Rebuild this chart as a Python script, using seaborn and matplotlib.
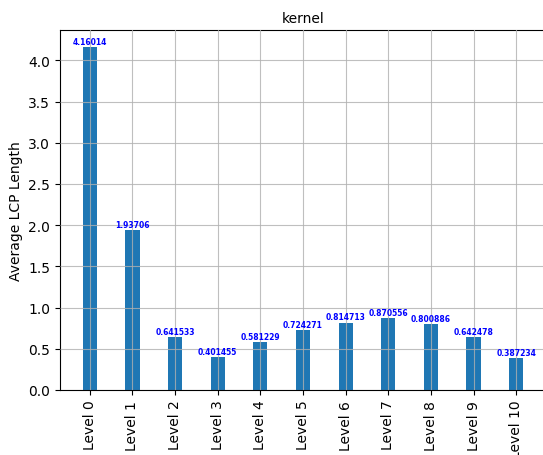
import matplotlib
matplotlib.use("Agg")
import matplotlib.pyplot as plt
import seaborn as sns
import pandas as pd

categories = ["Level 0", "Level 1", "Level 2", "Level 3", "Level 4", "Level 5",
              "Level 6", "Level 7", "Level 8", "Level 9", "Level 10"]
values = [4.16014, 1.93706, 0.641533, 0.401455, 0.581229, 0.724271,
          0.814713, 0.870556, 0.800886, 0.642478, 0.387234]

df = pd.DataFrame({"level": categories, "lcp": values})

fig = plt.figure(figsize=(5.43, 4.56), dpi=100)
ax = fig.add_axes([60 / 543, (456 - 391) / 456, (546 - 60) / 543, (391 - 31) / 456])

sns.barplot(data=df, x="level", y="lcp", color="#1f77b4", saturation=1,
            width=0.33, ax=ax, zorder=1)

for c in ax.containers:
    ax.bar_label(c, fmt="%g", fontsize=5.5, fontweight="bold", color="blue", padding=1)

ax.set_xlim(-0.70, 10.70)
ax.set_ylim(0, 4.16014 * 1.05)
ax.set_axisbelow(False)
ax.grid(True, color="#b0b0b0", linewidth=0.8, alpha=0.8)
ax.xaxis.grid(True)
ax.tick_params(axis="x", rotation=90, labelsize=10)
ax.tick_params(axis="y", labelsize=10)
ax.set_xlabel("")
ax.set_ylabel("Average LCP Length", fontsize=10)
ax.set_title("kernel", fontsize=10)

fig.savefig("out.png", dpi=100)
